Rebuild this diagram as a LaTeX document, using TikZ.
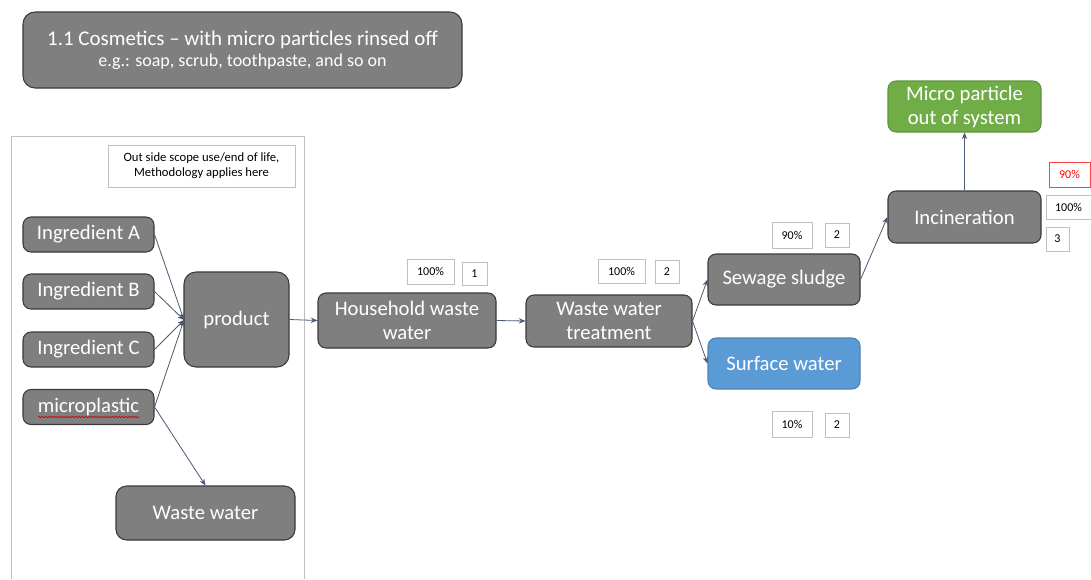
\documentclass[tikz,border=0pt]{standalone}
\usepackage{fontspec}
\setmainfont{Carlito}
\usetikzlibrary{arrows.meta,decorations.pathmorphing}
\definecolor{boxgray}{HTML}{7F7F7F}
\definecolor{boxedge}{HTML}{3A3A3A}
\definecolor{skyblue}{HTML}{5B9BD5}
\definecolor{leafgreen}{HTML}{70AD47}
\definecolor{flowline}{HTML}{4A5A72}
\definecolor{framegray}{HTML}{BFBFBF}
\tikzset{
  stage/.style={draw=boxedge, fill=boxgray, rounded corners=6pt, line width=0.8pt,
    text=white, align=center, inner sep=0pt, font=\fontsize{15.5}{18}\selectfont},
  tag/.style={draw=framegray, fill=white, line width=0.6pt, inner sep=0pt,
    font=\fontsize{9}{10}\selectfont},
  flow/.style={draw=flowline, line width=0.6pt, -{Stealth[length=5pt,width=4pt]}}
}
\begin{document}
\begin{tikzpicture}[x=0.75pt,y=-0.75pt]
\useasboundingbox (0,0) rectangle (1091,579);
\fill[white] (0,0) rectangle (1091,579);

% heading
\node[stage, minimum width=439*0.75pt, minimum height=76*0.75pt, rounded corners=9pt,
  font=\fontsize{15.7}{17}\selectfont] (title) at (242.5,50)
  {1.1 Cosmetics -- with micro particles rinsed off\\[-1pt]{\fontsize{13.5}{15}\selectfont e.g.: soap, scrub, toothpaste, and so on}};

% use / end-of-life scope
\draw[framegray, line width=0.7pt] (11,579) -- (11,136) -- (304,136) -- (304,579);
\node[draw=framegray, line width=0.6pt, minimum width=187*0.75pt, minimum height=42*0.75pt,
  inner sep=0pt, align=center, font=\fontsize{9.5}{11.5}\selectfont] (scope) at (201.5,166)
  {Out side scope use/end of life,\\Methodology applies here};

% ingredients
\node[stage, minimum width=131*0.75pt, minimum height=35*0.75pt] (ingA) at (88.5,234.5) {Ingredient A};
\node[stage, minimum width=131*0.75pt, minimum height=35*0.75pt] (ingB) at (88.5,291.5) {Ingredient B};
\node[stage, minimum width=131*0.75pt, minimum height=35*0.75pt] (ingC) at (88.5,349.5) {Ingredient C};
\node[stage, minimum width=131*0.75pt, minimum height=35*0.75pt] (micro) at (88.5,407) {microplastic};
\draw[red!80!black, line width=0.5pt, decorate, decoration={snake, amplitude=0.5pt, segment length=2.5pt}]
  (38,417) -- (139,417);

\node[stage, minimum width=105*0.75pt, minimum height=95*0.75pt, rounded corners=9pt] (prod) at (236.5,319.5) {product};
\node[stage, minimum width=179*0.75pt, minimum height=54*0.75pt, rounded corners=8pt] (ww) at (205.5,513) {Waste water};

% treatment chain
\node[stage, minimum width=178*0.75pt, minimum height=55*0.75pt] (hww) at (407,320.5) {Household waste\\water};
\node[stage, minimum width=166*0.75pt, minimum height=52*0.75pt] (wwt) at (609,321) {Waste water\\treatment};
\node[stage, minimum width=152*0.75pt, minimum height=51*0.75pt] (sludge) at (784,279.5) {Sewage sludge};
\node[stage, draw=skyblue!85!black, fill=skyblue, minimum width=152*0.75pt, minimum height=51*0.75pt] (surf) at (784,363.5) {Surface water};
\node[stage, minimum width=153*0.75pt, minimum height=52*0.75pt] (incin) at (964.5,217) {Incineration};
\node[stage, draw=leafgreen!85!black, fill=leafgreen, minimum width=153*0.75pt, minimum height=51*0.75pt] (out) at (964.5,106.5) {Micro particle\\out of system};

% share and step tags
\node[tag, minimum width=47*0.75pt, minimum height=25*0.75pt] (p1) at (430.5,271.5) {100\%};
\node[tag, minimum width=25*0.75pt, minimum height=23*0.75pt] (s1) at (474.5,273.5) {1};
\node[tag, minimum width=47*0.75pt, minimum height=24*0.75pt] (p2) at (621.5,271) {100\%};
\node[tag, minimum width=24*0.75pt, minimum height=23*0.75pt] (s2) at (667,271.5) {2};
\node[tag, minimum width=40*0.75pt, minimum height=26*0.75pt] (p3) at (792,235) {90\%};
\node[tag, minimum width=24*0.75pt, minimum height=24*0.75pt] (s3) at (837,235) {2};
\node[tag, minimum width=40*0.75pt, minimum height=26*0.75pt] (p4) at (792,424) {10\%};
\node[tag, minimum width=24*0.75pt, minimum height=24*0.75pt] (s4) at (837,425) {2};
\node[tag, draw=red!75, text=red, minimum width=41*0.75pt, minimum height=25*0.75pt] (p5) at (1069.5,174.5) {90\%};
\node[tag, minimum width=45*0.75pt, minimum height=24*0.75pt] (p6) at (1068.5,207) {100\%};
\node[tag, minimum width=23*0.75pt, minimum height=24*0.75pt] (s6) at (1057.5,239) {3};

% connectors
\coordinate (prodin) at (184,320);
\draw[flow] (ingA.east) -- (prodin);
\draw[flow] (ingB.east) -- (prodin);
\draw[flow] (ingC.east) -- (prodin);
\draw[flow] (micro.east) -- (prodin);
\draw[flow] (micro.east) -- (ww.north);
\draw[flow] (prod.east) -- (hww.west);
\draw[flow] (hww.east) -- (wwt.west);
\draw[flow] (wwt.east) -- (sludge.west);
\draw[flow] (wwt.east) -- (surf.west);
\draw[flow] (sludge.east) -- (incin.west);
\draw[flow] (incin.north) -- (out.south);
\end{tikzpicture}
\end{document}
